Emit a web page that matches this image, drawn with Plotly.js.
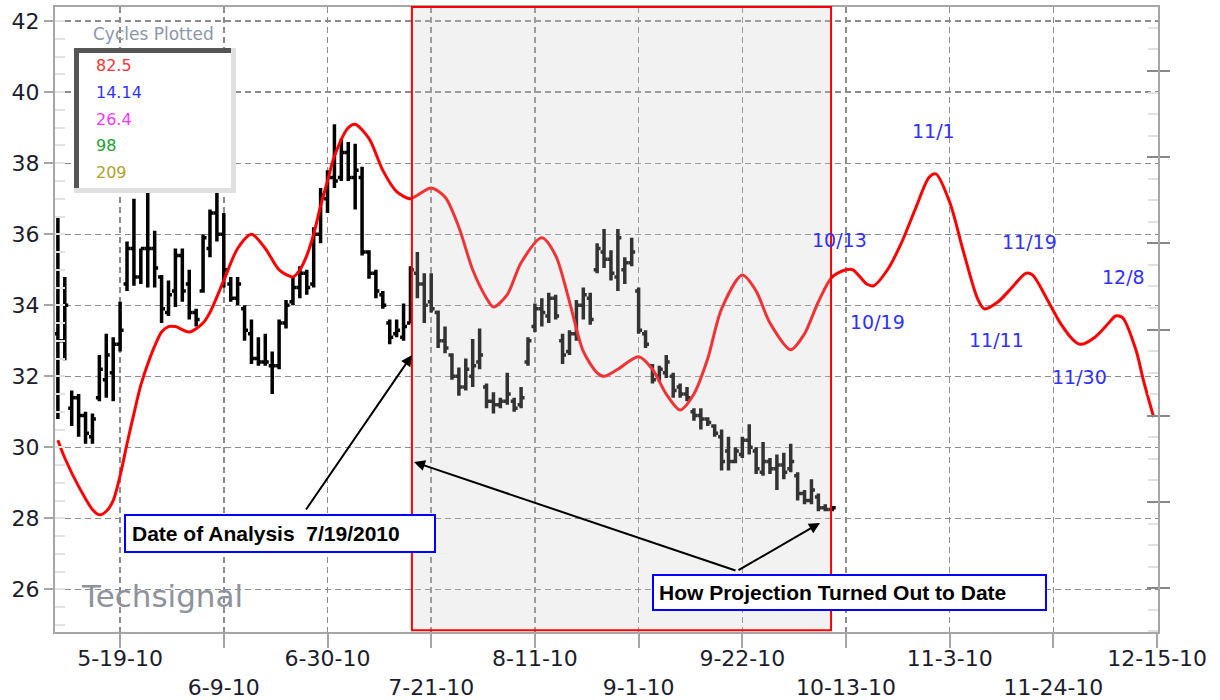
<!DOCTYPE html>
<html>
<head>
<meta charset="utf-8">
<script src="https://cdn.plot.ly/plotly-3.0.1.min.js"></script>
<style>
  body { margin: 0; background: #fff; }
  #chart { width: 1220px; height: 700px; }
</style>
</head>
<body>
<div id="chart"></div>
<script>
// daily bars (trading days only)
const barDates = [
  '2010-05-06','2010-05-07','2010-05-10','2010-05-11','2010-05-12','2010-05-13','2010-05-14','2010-05-17','2010-05-18','2010-05-19',
  '2010-05-20','2010-05-21','2010-05-24','2010-05-25','2010-05-26','2010-05-27','2010-05-28','2010-05-31','2010-06-01','2010-06-02',
  '2010-06-03','2010-06-04','2010-06-07','2010-06-08','2010-06-09','2010-06-10','2010-06-11','2010-06-14','2010-06-15','2010-06-16',
  '2010-06-17','2010-06-18','2010-06-21','2010-06-22','2010-06-23','2010-06-24','2010-06-25','2010-06-28','2010-06-29','2010-06-30',
  '2010-07-01','2010-07-02','2010-07-05','2010-07-06','2010-07-07','2010-07-08','2010-07-09','2010-07-12','2010-07-13','2010-07-14',
  '2010-07-15','2010-07-16','2010-07-19','2010-07-20','2010-07-21','2010-07-22','2010-07-23','2010-07-26','2010-07-27','2010-07-28',
  '2010-07-29','2010-07-30','2010-08-02','2010-08-03','2010-08-04','2010-08-05','2010-08-06','2010-08-09','2010-08-10','2010-08-11',
  '2010-08-12','2010-08-13','2010-08-16','2010-08-17','2010-08-18','2010-08-19','2010-08-20','2010-08-23','2010-08-24','2010-08-25',
  '2010-08-26','2010-08-27','2010-08-30','2010-08-31','2010-09-01','2010-09-02','2010-09-03','2010-09-06','2010-09-07','2010-09-08',
  '2010-09-09','2010-09-10','2010-09-13','2010-09-14','2010-09-15','2010-09-16','2010-09-17','2010-09-20','2010-09-21','2010-09-22',
  '2010-09-23','2010-09-24','2010-09-27','2010-09-28','2010-09-29','2010-09-30','2010-10-01','2010-10-04','2010-10-05','2010-10-06',
  '2010-10-07','2010-10-08','2010-10-11'
];
const barOpen = [
  33.2,33.0,31.1,31.4,30.9,30.3,31.4,31.9,32.1,32.9,
  34.6,35.6,34.8,35.6,35.6,34.8,33.8,34.4,35.4,34.6,
  33.8,34.4,35.6,36.6,36.0,34.6,34.2,33.9,33.2,32.5,
  32.4,32.3,32.3,33.5,34.1,34.5,34.9,34.6,36.0,37.0,
  37.6,37.6,38.3,37.6,37.6,35.5,34.9,34.3,33.5,33.2,
  33.1,33.5,34.9,34.6,34.1,33.8,33.0,32.6,32.0,31.7,
  32.0,32.4,31.7,31.3,31.2,31.3,31.3,31.2,32.4,33.4,
  33.9,33.7,34.2,33.0,32.7,33.2,34.0,34.2,35.0,35.5,
  35.3,34.8,35.0,35.2,34.4,33.2,32.3,32.0,32.1,32.0,
  31.7,31.5,31.0,30.9,30.8,30.6,30.3,29.9,29.6,29.8,
  30.2,29.9,29.3,29.6,29.4,29.5,29.4,29.2,28.7,28.5,
  28.6,28.3,28.25
];
const barHigh = [
  36.5,34.8,31.6,31.5,31.0,30.95,32.6,33.2,33.1,34.1,
  35.8,37.0,35.6,37.85,36.1,34.85,34.7,35.6,35.6,35.0,
  33.9,36.0,36.7,37.3,36.6,34.8,34.8,34.0,33.6,33.1,
  33.2,32.7,33.6,34.15,34.8,35.1,35.0,36.2,37.3,37.8,
  39.1,38.7,38.6,38.55,37.9,35.55,35.0,34.4,33.6,33.6,
  34.05,35.1,35.5,34.9,34.9,33.85,33.4,32.65,32.25,32.5,
  33.05,33.35,31.8,31.55,31.4,32.1,31.4,31.7,33.1,34.05,
  34.2,34.35,34.3,33.2,33.3,34.15,34.5,34.35,35.75,36.15,
  35.55,36.15,35.35,35.9,34.5,33.3,32.35,32.3,32.6,32.1,
  31.8,31.7,31.1,31.1,30.85,30.65,30.5,30.3,30.0,30.3,
  30.65,30.0,30.15,29.7,29.8,29.85,30.1,29.3,28.8,29.1,
  28.7,28.4,28.35
];
const barLow = [
  30.8,32.45,30.6,30.3,30.1,30.1,31.3,31.4,31.3,32.7,
  34.4,34.55,34.6,34.5,34.5,33.5,33.7,33.95,34.1,33.6,
  33.4,34.35,35.35,35.8,34.5,34.1,34.0,33.0,32.35,32.3,
  32.3,31.5,32.2,33.35,34.0,34.2,34.3,34.5,35.75,36.6,
  37.3,37.5,37.5,36.7,35.4,34.75,34.2,33.9,32.9,33.1,
  33.0,33.5,34.2,33.5,33.8,32.8,32.65,31.9,31.45,31.6,
  31.7,32.2,31.1,30.95,31.1,31.2,31.0,31.1,32.3,33.25,
  33.4,33.5,33.6,32.35,32.6,33.0,33.6,33.45,34.9,35.05,
  34.7,34.4,34.6,35.1,33.2,32.8,31.8,31.85,31.95,31.4,
  31.4,31.3,30.75,30.5,30.6,30.3,29.35,29.35,29.55,29.7,
  29.8,29.25,29.2,29.25,28.8,29.1,29.3,28.5,28.4,28.4,
  28.2,28.2,28.2
];
const barClose = [
  33.0,34.0,31.4,30.9,30.4,30.8,32.2,32.6,32.9,33.3,
  35.6,34.8,35.6,35.6,35.05,33.9,34.3,35.4,34.4,33.8,
  33.6,35.9,36.6,36.0,35.0,34.2,34.6,33.3,32.5,32.4,
  32.4,32.3,33.5,34.0,34.5,34.9,34.5,36.0,37.1,37.6,
  37.5,38.3,37.6,37.8,35.5,34.9,34.4,34.0,33.1,33.3,
  33.4,35.0,34.6,34.0,33.9,33.0,32.8,32.0,31.7,32.2,
  32.3,32.6,31.3,31.2,31.3,31.5,31.1,31.4,33.0,33.9,
  33.8,34.2,33.7,32.6,33.2,34.0,34.3,33.6,35.6,35.3,
  34.9,35.9,35.2,35.5,33.3,32.9,31.9,32.2,32.4,31.6,
  31.5,31.4,30.9,30.8,30.7,30.4,29.6,29.6,29.9,30.2,
  30.0,29.4,29.6,29.4,29.5,29.3,29.6,28.7,28.5,28.8,
  28.3,28.25,28.3
];

// cycle projection (red line)
const projDates = [
  '2010-05-06','2010-05-07','2010-05-11','2010-05-13','2010-05-14','2010-05-17','2010-05-18','2010-05-19','2010-05-20','2010-05-21',
  '2010-05-24','2010-05-25','2010-05-26','2010-05-27','2010-05-28','2010-05-31','2010-06-02','2010-06-04','2010-06-07','2010-06-09',
  '2010-06-11','2010-06-15','2010-06-17','2010-06-21','2010-06-23','2010-06-24','2010-06-25','2010-06-28','2010-06-29','2010-06-30',
  '2010-07-01','2010-07-05','2010-07-06','2010-07-08','2010-07-12','2010-07-14','2010-07-16','2010-07-19','2010-07-21','2010-07-23',
  '2010-07-27','2010-07-29','2010-08-02','2010-08-03','2010-08-05','2010-08-09','2010-08-12','2010-08-16','2010-08-18','2010-08-20',
  '2010-08-24','2010-08-25','2010-08-27','2010-09-01','2010-09-03','2010-09-07','2010-09-09','2010-09-13','2010-09-15','2010-09-17',
  '2010-09-22','2010-09-24','2010-09-28','2010-10-01','2010-10-05','2010-10-07','2010-10-11','2010-10-13','2010-10-14','2010-10-18',
  '2010-10-19','2010-10-21','2010-10-25','2010-10-27','2010-10-29','2010-11-01','2010-11-03','2010-11-05','2010-11-09','2010-11-10',
  '2010-11-12','2010-11-16','2010-11-18','2010-11-19','2010-11-23','2010-11-25','2010-11-29','2010-11-30','2010-12-02','2010-12-06',
  '2010-12-07','2010-12-08','2010-12-10','2010-12-13','2010-12-14 12:00'
];
const projValues = [
  30.2,29.7,28.9,28.25,28.1,28.2,28.5,29.2,30.1,30.95,
  31.75,32.35,32.85,33.25,33.4,33.4,33.25,33.5,33.8,34.7,
  35.6,36.0,35.6,35.0,34.8,35.0,35.4,36.0,36.8,37.5,
  38.2,39.0,39.1,38.7,37.8,37.2,37.0,37.1,37.3,37.05,
  36.2,35.0,34.2,33.95,34.3,35.2,35.9,35.4,34.1,32.7,
  32.1,32.0,32.2,32.55,32.2,31.5,31.05,31.5,32.5,33.9,
  34.85,34.4,33.5,32.75,33.2,34.1,34.8,35.0,35.0,34.6,
  34.55,35.0,35.75,36.7,37.6,37.7,36.9,35.5,34.2,33.9,
  34.1,34.5,34.9,34.85,34.2,33.5,33.0,32.9,33.1,33.5,
  33.7,33.65,32.7,31.9,30.85
];

// turning point labels
const tpText = ['10/13','10/19','11/1','11/11','11/19','11/30','12/8'];
const tpDates = ['2010-10-12','2010-10-19 12:00','2010-10-29 14:00','2010-11-11 17:00','2010-11-18 12:00','2010-11-29 17:00','2010-12-08 02:00'];
const tpValues = [35.83,33.52,38.9,33.01,35.77,31.97,34.79];

// cycle legend
const cycleValues = ['82.5','14.14','26.4','98','209'];
const cycleColors = ['#ff3333','#3333ff','#ff33ff','#22a033','#b0a028'];

// x tick labels, staggered on two rows
const tickRow1 = ['2010-05-19','2010-06-30','2010-08-11','2010-09-22','2010-11-03','2010-12-15'];
const labelRow1 = ['5-19-10','6-30-10','8-11-10','9-22-10','11-3-10','12-15-10'];
const tickRow2 = ['2010-06-09','2010-07-21','2010-09-01','2010-10-13','2010-11-24'];
const labelRow2 = ['6-9-10','7-21-10','9-1-10','10-13-10','11-24-10'];

const tickVals = tickRow1.concat(tickRow2);
const tickText = labelRow1.concat(labelRow2.map(t => '<br>' + t));

const gridGray = '#8c8c8c';
const axisGray = '#a6a6a6';
const tickFont = { family: 'DejaVu Sans, Verdana, sans-serif', size: 22, color: '#1c1c2c' };

const bars = {
  type: 'ohlc',
  x: barDates,
  open: barOpen, high: barHigh, low: barLow, close: barClose,
  increasing: { line: { color: '#000', width: 3.5 } },
  decreasing: { line: { color: '#000', width: 3.5 } },
  tickwidth: 0.5,
  hoverinfo: 'skip'
};

const projection = {
  type: 'scatter',
  mode: 'lines',
  x: projDates,
  y: projValues,
  line: { color: '#ff0000', width: 3, shape: 'spline', smoothing: 0.8 },
  hoverinfo: 'skip'
};

// helper traces so the right-hand tick axes are drawn
const rightAxisA = { type: 'scatter', mode: 'markers', x: [barDates[0]], y: [1], yaxis: 'y2', marker: { opacity: 0 }, hoverinfo: 'skip' };
const rightAxisB = { type: 'scatter', mode: 'markers', x: [barDates[0]], y: [1], yaxis: 'y3', marker: { opacity: 0 }, hoverinfo: 'skip' };

// pixel -> paper helpers for the decorations
const px = x => (x - 55) / 1103;
const py = y => (632 - y) / 625;

const annotations = [];

tpText.forEach((t, i) => {
  annotations.push({
    x: tpDates[i], y: tpValues[i], xref: 'x', yref: 'y',
    xanchor: 'center', yanchor: 'middle',
    text: t, showarrow: false,
    font: { family: 'DejaVu Sans, Verdana, sans-serif', size: 19, color: '#3030ff' }
  });
});

annotations.push({
  x: px(153), y: py(34), xref: 'paper', yref: 'paper', xanchor: 'center', yanchor: 'middle',
  text: 'Cycles Plotted', showarrow: false,
  font: { family: 'DejaVu Sans, Verdana, sans-serif', size: 17, color: '#8c96a8' }
});
const cycleY = [65, 92, 119, 145, 172];
cycleValues.forEach((v, i) => {
  annotations.push({
    x: px(94), y: py(cycleY[i]), xref: 'paper', yref: 'paper', xanchor: 'left', yanchor: 'middle',
    text: v, showarrow: false,
    font: { family: 'DejaVu Sans, Verdana, sans-serif', size: 16, color: cycleColors[i] }
  });
});

annotations.push({
  x: px(79), y: py(596), xref: 'paper', yref: 'paper', xanchor: 'left', yanchor: 'middle',
  text: 'Techsignal', showarrow: false,
  font: { family: 'DejaVu Sans, Verdana, sans-serif', size: 31, color: '#8d929c' }
});

// callout boxes
annotations.push({
  x: px(280), y: py(533), xref: 'paper', yref: 'paper', xanchor: 'center', yanchor: 'middle',
  text: '<b>Date of Analysis\u00a0\u00a07/19/2010</b>', showarrow: false,
  width: 296, align: 'left',
  bgcolor: '#fff', bordercolor: '#0000ff', borderwidth: 2, borderpad: 6,
  font: { family: 'Liberation Sans, Arial, sans-serif', size: 21, color: '#000' }
});
annotations.push({
  x: px(849), y: py(592), xref: 'paper', yref: 'paper', xanchor: 'center', yanchor: 'middle',
  text: '<b>How Projection Turned Out to Date</b>', showarrow: false,
  width: 381, align: 'left',
  bgcolor: '#fff', bordercolor: '#0000ff', borderwidth: 2, borderpad: 5,
  font: { family: 'Liberation Sans, Arial, sans-serif', size: 21, color: '#000' }
});

// arrows
const arrows = [
  { head: [412, 355], tail: [305, 511] },
  { head: [414, 462], tail: [737, 571] },
  { head: [820, 523], tail: [737, 571] }
];
arrows.forEach(a => {
  annotations.push({
    x: px(a.head[0]), y: py(a.head[1]), xref: 'paper', yref: 'paper',
    ax: a.tail[0] - a.head[0], ay: a.tail[1] - a.head[1],
    text: '', showarrow: true, arrowhead: 2, arrowsize: 1.1, arrowwidth: 2,
    arrowcolor: '#000', standoff: 0
  });
});

const shapes = [
  // legend frame (3D look)
  { type: 'rect', xref: 'paper', yref: 'paper', layer: 'above',
    x0: px(74), x1: px(236), y0: py(193), y1: py(48), fillcolor: '#e0e0e0', line: { width: 0 } },
  { type: 'rect', xref: 'paper', yref: 'paper', layer: 'above',
    x0: px(74), x1: px(231), y0: py(188), y1: py(48), fillcolor: '#555', line: { width: 0 } },
  { type: 'rect', xref: 'paper', yref: 'paper', layer: 'above',
    x0: px(79), x1: px(231), y0: py(188), y1: py(53), fillcolor: '#fff', line: { width: 0 } },
  // projection-test window
  { type: 'rect', xref: 'x', yref: 'paper', layer: 'above',
    x0: '2010-07-16 05:00', x1: '2010-10-08 20:00', y0: 0.003, y1: 1,
    fillcolor: 'rgba(204,204,204,0.25)', line: { color: '#ff0000', width: 2 } }
];

const layout = {
  width: 1220, height: 700,
  margin: { l: 55, r: 62, t: 7, b: 68 },
  paper_bgcolor: '#fff', plot_bgcolor: '#fff',
  showlegend: false,
  xaxis: {
    type: 'date',
    range: ['2010-05-05 14:00', '2010-12-15 03:00'],
    rangebreaks: [{ bounds: ['sat', 'mon'] }],
    rangeslider: { visible: false },
    tickmode: 'array', tickvals: tickVals, ticktext: tickText,
    ticks: 'outside', ticklen: 14, tickwidth: 2, tickcolor: axisGray,
    ticklabelstandoff: -8,
    showgrid: true, gridcolor: gridGray, griddash: '6px,4px', gridwidth: 1.5,
    showline: true, linecolor: axisGray, linewidth: 2, mirror: true,
    zeroline: false, tickfont: tickFont
  },
  yaxis: {
    range: [24.8, 42.4], tick0: 0, dtick: 2,
    ticks: 'outside', ticklen: 9, tickwidth: 2, tickcolor: axisGray,
    minor: { dtick: 0.5, ticks: 'inside', ticklen: 10, tickwidth: 2, tickcolor: '#e2e2e2', showgrid: false },
    showgrid: true, gridcolor: gridGray, griddash: '6px,4px', gridwidth: 1.5,
    showline: true, linecolor: axisGray, linewidth: 2,
    zeroline: false, tickfont: tickFont
  },
  yaxis2: {
    overlaying: 'y', side: 'right',
    range: [0.492, 7.742], tick0: 0, dtick: 1,
    ticks: 'outside', ticklen: 10, tickwidth: 2, tickcolor: '#888',
    minor: { dtick: 0.25, ticks: 'inside', ticklen: 10, tickwidth: 2, tickcolor: '#e2e2e2', showgrid: false },
    showticklabels: false, showgrid: false, zeroline: false,
    showline: true, linecolor: axisGray, linewidth: 2
  },
  yaxis3: {
    overlaying: 'y', side: 'right',
    range: [0.492, 7.742], tick0: 0, dtick: 1,
    ticks: 'inside', ticklen: 11, tickwidth: 2, tickcolor: '#888',
    showticklabels: false, showgrid: false, zeroline: false, showline: false
  },
  shapes: shapes,
  annotations: annotations
};

Plotly.newPlot('chart', [bars, projection, rightAxisA, rightAxisB], layout, { staticPlot: true });
</script>
</body>
</html>
